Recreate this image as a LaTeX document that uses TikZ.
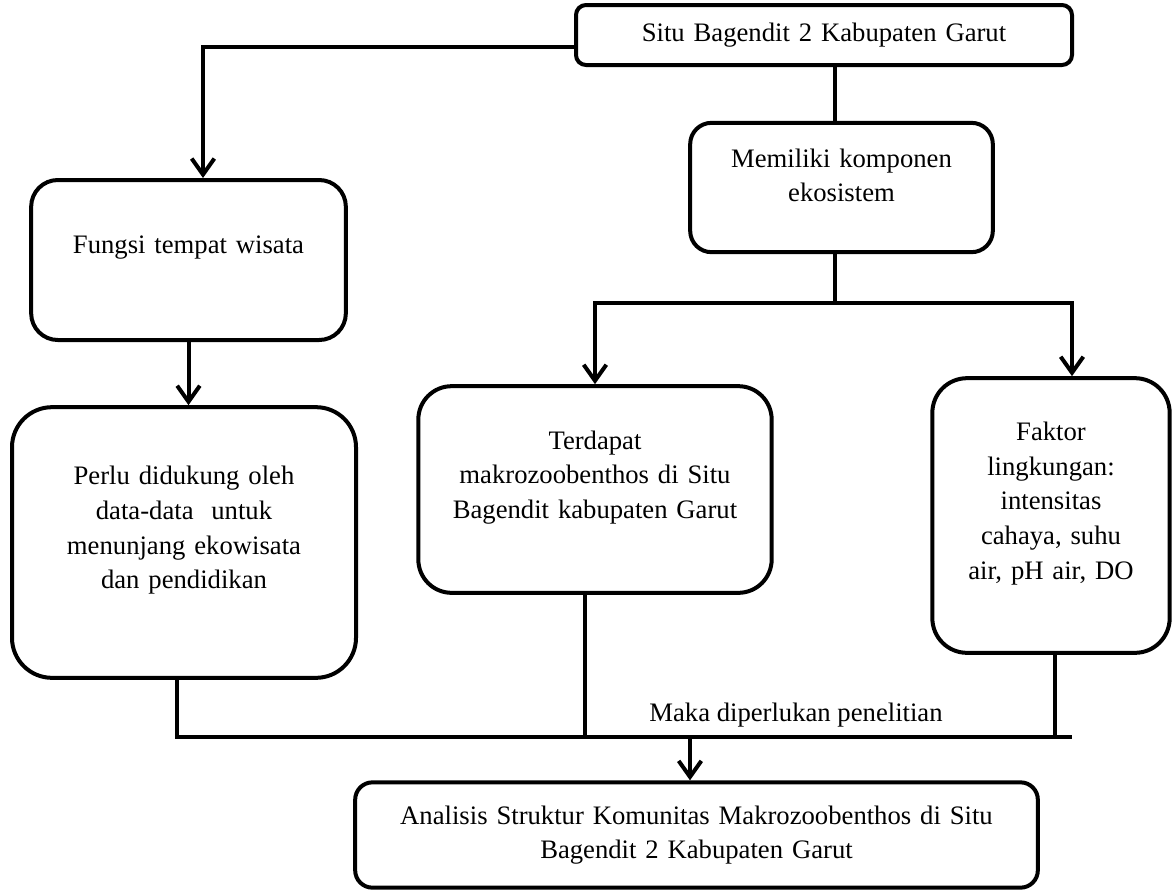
\documentclass[tikz,border=0pt]{standalone}
\usepackage{fontspec}
\setmainfont{Liberation Serif}
\usetikzlibrary{arrows.meta}

\newcommand{\lift}{\par\vspace*{18pt}\hrule height 0pt}

\tikzset{
  stage/.style={draw, line width=3pt, align=center, inner sep=0pt,
    font=\fontsize{20}{26}\selectfont},
  wire/.style={line width=3pt},
  arr/.style={line width=3pt, -{Straight Barb[length=12pt,width=17pt]}},
}

\begin{document}
\begin{tikzpicture}[x=0.75pt,y=0.75pt,yscale=-1,xscale=1]
        \useasboundingbox (0,0) rectangle (1175,890);

        % Boxes
        \node[stage, rounded corners=7.5pt, minimum width=372pt, minimum height=45pt, text width=350pt] (situ) at (824,35) {Situ Bagendit 2 Kabupaten Garut};
        \node[stage, rounded corners=20pt, minimum width=236pt, minimum height=120pt, text width=216pt] (fungsi) at (188.5,260) {Fungsi tempat wisata\lift};
        \node[stage, rounded corners=30pt, minimum width=258pt, minimum height=203pt, text width=238pt] (perlu) at (184,542.5) {Perlu didukung oleh\\data-data\ \ untuk\\menunjang ekowisata\\dan pendidikan\lift};
        \node[stage, rounded corners=16pt, minimum width=227pt, minimum height=97pt, text width=207pt] (memiliki) at (841.5,187.5) {Memiliki komponen\\ekosistem\lift};
        \node[stage, rounded corners=25pt, minimum width=265pt, minimum height=155pt, text width=245pt] (terdapat) at (595,489.5) {Terdapat\\makrozoobenthos di Situ\\Bagendit kabupaten Garut\lift};
        \node[stage, rounded corners=26pt, minimum width=178pt, minimum height=206pt, text width=160pt] (faktor) at (1051,515.5) {Faktor\\lingkungan:\\intensitas\\cahaya, suhu\\air, pH air, DO\lift};
        \node[stage, rounded corners=13pt, minimum width=512pt, minimum height=79pt, text width=490pt] (final) at (696.5,835) {Analisis Struktur Komunitas Makrozoobenthos di Situ\\Bagendit 2 Kabupaten Garut};

        % Bends and joints
        \coordinate (bendL) at (203,47);
        \coordinate (split) at (835,303);
        \coordinate (mergeL) at (177,737);
        \coordinate (mergeR) at (1072,737);
        \coordinate (tapM) at (585,737);
        \coordinate (tapR) at (1055,737);
        \coordinate (merge) at (690,737);

        % Connectors
        \draw[arr] (situ.west |- bendL) -| (bendL |- fungsi.north);
        \draw[arr] (fungsi.south) -- (fungsi.south |- perlu.north);
        \draw[wire] (situ.south -| split) -- (memiliki.north -| split);
        \draw[wire] (memiliki.south -| split) -- (split);
        \draw[arr] (split) -| (terdapat.north);
        \draw[arr] (split) -| (mergeR |- faktor.north);
        \draw[wire] (perlu.south -| mergeL) -- (mergeL) -- (mergeR);
        \draw[wire] (terdapat.south -| tapM) -- (tapM);
        \draw[wire] (faktor.south -| tapR) -- (tapR);
        \draw[arr] (merge) -- (merge |- final.north);

        % Text Node
        \node[font=\fontsize{20}{26}\selectfont] (maka) at (796,715) {Maka diperlukan penelitian};
\end{tikzpicture}
\end{document}
